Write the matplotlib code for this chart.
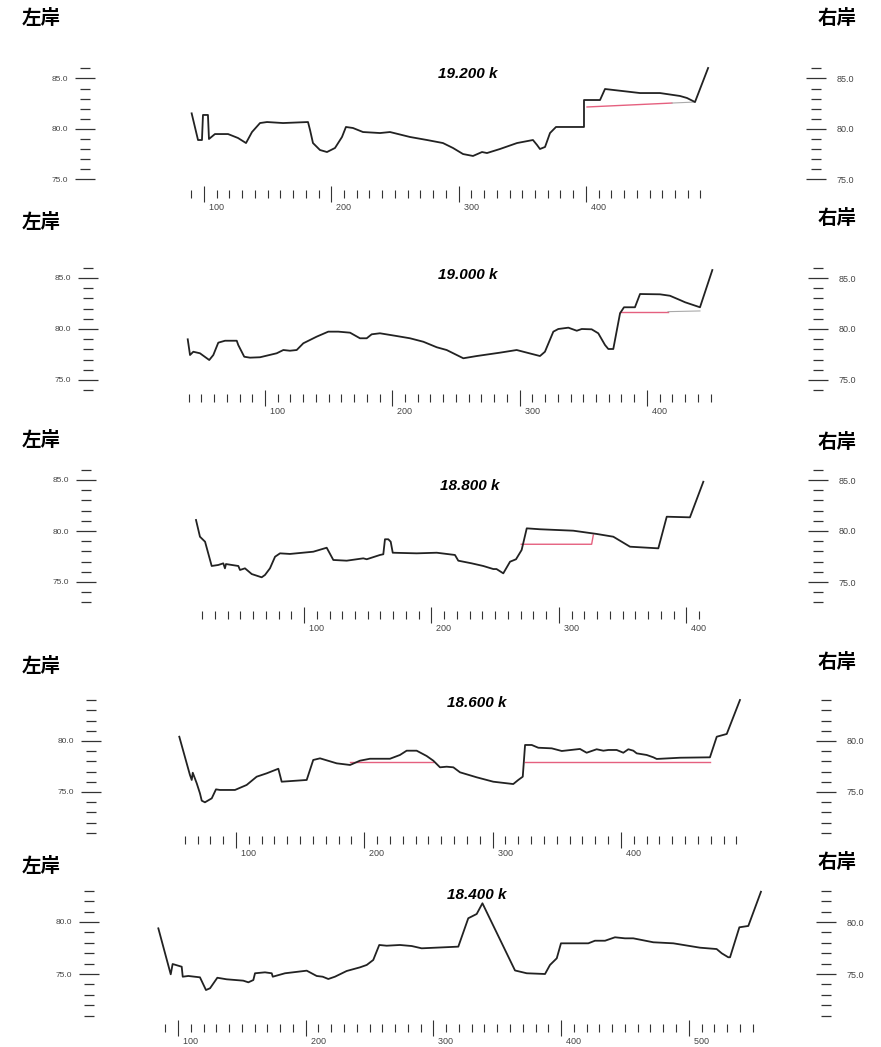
import numpy as np
import matplotlib.pyplot as plt
from matplotlib.ticker import FixedLocator, FormatStrFormatter

plt.rcParams['font.family'] = ['Liberation Sans', 'DejaVu Sans']

# 断面名
names = ['19.200 k', '19.000 k', '18.800 k', '18.600 k', '18.400 k']

# 19.200 k 横断面 (距離 m, 標高 m)
x_19200 = [90.3, 95.3, 98.4, 99.2, 103.1, 103.9, 108.6, 118.9, 126.7, 133.0, 137.7, 144.0,
           149.5, 162.1, 181.7, 183.3, 185.6, 191.1, 196.6, 202.9, 208.4, 211.5, 217.0, 224.9,
           238.3, 246.1, 261.8, 275.2, 287.7, 295.6, 303.5, 311.3, 318.4, 322.3, 332.5, 345.9,
           358.4, 361.6, 363.9, 367.9, 371.8, 376.5, 395.4, 398.5, 398.5, 401.6, 411.1, 415.0,
           442.5, 458.2, 473.9, 479.4, 485.7, 496.0]
z_19200 = [81.55, 78.91, 78.91, 81.39, 81.39, 79.01, 79.50, 79.50, 79.11, 78.61, 79.70, 80.59,
           80.69, 80.59, 80.69, 79.90, 78.61, 77.92, 77.72, 78.12, 79.21, 80.20, 80.10, 79.70,
           79.60, 79.70, 79.21, 78.91, 78.61, 78.12, 77.52, 77.33, 77.72, 77.62, 78.02, 78.61,
           78.91, 78.42, 78.02, 78.22, 79.60, 80.20, 80.20, 80.20, 82.87, 82.87, 82.87, 83.96,
           83.56, 83.56, 83.27, 83.07, 82.67, 86.04]
wl_x_19200 = [400.9, 467.6]
wl_z_19200 = [82.18, 82.57]
ext_x_19200 = [467.6, 485.7]
ext_z_19200 = [82.57, 82.67]

# 19.000 k
x_19000 = [39.3, 41.1, 43.7, 48.9, 56.2, 59.4, 63.3, 68.6, 77.8, 79.0, 83.7, 88.2, 96.1,
           109.2, 114.4, 119.6, 124.9, 130.1, 140.6, 149.7, 157.6, 166.8, 174.6, 179.9, 183.8,
           190.3, 203.5, 213.9, 224.4, 234.9, 242.7, 255.8, 266.3, 284.6, 297.7, 316.0, 319.9,
           326.5, 330.4, 338.3, 344.9, 348.8, 356.6, 361.8, 367.1, 369.7, 373.6, 378.9, 382.0,
           390.6, 394.6, 410.3, 418.1, 426.0, 430.0, 441.7, 451.4]
z_19000 = [78.99, 77.45, 77.77, 77.62, 76.96, 77.45, 78.66, 78.85, 78.85, 78.43, 77.28, 77.19,
           77.23, 77.62, 77.94, 77.87, 77.94, 78.60, 79.25, 79.74, 79.74, 79.64, 79.09, 79.09,
           79.48, 79.58, 79.31, 79.09, 78.75, 78.21, 77.94, 77.13, 77.35, 77.68, 77.94, 77.35,
           77.77, 79.74, 80.00, 80.13, 79.83, 80.00, 79.97, 79.58, 78.43, 78.04, 78.04, 81.54,
           82.13, 82.13, 83.43, 83.40, 83.26, 82.84, 82.62, 82.13, 85.78]
wl_x_19000 = [378.6, 416.6]
wl_z_19000 = [81.70, 81.70]
ext_x_19000 = [416.6, 441.7]
ext_z_19000 = [81.70, 81.77]

# 18.800 k
x_18800 = [15.3, 18.4, 21.0, 22.4, 27.6, 32.8, 36.7, 38.0, 38.8, 48.5, 49.8, 53.7, 59.0,
           66.8, 69.4, 73.3, 77.3, 81.2, 89.0, 107.3, 117.8, 123.0, 133.5, 146.5, 149.2, 159.6,
           162.2, 163.5, 166.1, 168.0, 169.6, 188.4, 204.1, 218.4, 221.0, 231.5, 240.6, 248.5,
           251.0, 256.3, 261.6, 266.3, 270.7, 274.7, 285.1, 311.2, 329.6, 342.6, 355.7, 377.9,
           384.5, 402.7, 413.2]
z_18800 = [81.08, 79.44, 79.12, 78.95, 76.57, 76.67, 76.83, 76.34, 76.76, 76.57, 76.18, 76.34,
           75.78, 75.46, 75.69, 76.34, 77.48, 77.81, 77.75, 77.97, 78.36, 77.16, 77.09, 77.32,
           77.23, 77.65, 77.72, 79.19, 79.19, 78.95, 77.87, 77.81, 77.87, 77.65, 77.09, 76.83,
           76.57, 76.27, 76.27, 75.85, 76.99, 77.23, 78.14, 80.26, 80.17, 80.03, 79.71, 79.44,
           78.46, 78.30, 81.40, 81.34, 84.83]
wl_x_18800 = [270.4, 325.6, 326.9]
wl_z_18800 = [78.70, 78.70, 79.60]

# 18.600 k
x_18600 = [55.8, 64.1, 65.5, 66.3, 69.4, 71.9, 73.3, 75.8, 81.1, 84.4, 87.5, 99.2, 108.3,
           116.1, 123.9, 133.0, 135.6, 155.1, 160.2, 165.5, 178.5, 188.9, 196.6, 204.4, 220.0,
           227.8, 233.0, 240.8, 248.6, 253.8, 259.0, 264.2, 269.4, 274.6, 287.6, 300.5, 316.1,
           320.0, 323.5, 325.3, 330.5, 335.6, 346.1, 353.9, 368.1, 373.3, 381.1, 386.3, 390.2,
           396.7, 401.9, 405.8, 409.7, 412.3, 420.1, 425.3, 427.9, 446.1, 469.4, 474.7, 482.5,
           492.8]
z_18600 = [80.42, 76.67, 76.18, 76.89, 75.85, 74.87, 74.15, 73.99, 74.38, 75.26, 75.20, 75.20,
           75.69, 76.50, 76.83, 77.28, 76.01, 76.18, 78.14, 78.30, 77.81, 77.65, 78.07, 78.26,
           78.26, 78.63, 79.05, 79.05, 78.53, 78.07, 77.42, 77.48, 77.42, 76.93, 76.44, 76.01,
           75.78, 76.18, 76.50, 79.61, 79.61, 79.34, 79.28, 79.02, 79.22, 78.85, 79.19, 79.05,
           79.12, 79.12, 78.85, 79.19, 79.05, 78.79, 78.63, 78.40, 78.24, 78.36, 78.40, 80.42,
           80.69, 84.02]
wl1_x_18600 = [188.9, 253.6]
wl1_z_18600 = [77.97, 77.97]
wl2_x_18600 = [325.3, 469.4]
wl2_z_18600 = [77.97, 77.97]

# 18.400 k
x_18400 = [84.6, 94.3, 95.8, 102.9, 103.7, 108.1, 117.2, 121.9, 125.1, 130.8, 138.1, 151.1,
           155.1, 159.0, 160.3, 168.1, 173.4, 174.2, 183.8, 200.8, 208.6, 213.3, 217.7, 222.9,
           232.1, 242.5, 247.8, 252.9, 257.6, 263.4, 273.8, 283.0, 290.8, 319.5, 327.3, 333.9,
           338.4, 363.9, 373.1, 387.4, 391.3, 396.6, 399.9, 421.3, 426.5, 434.4, 442.2, 450.0,
           456.5, 472.2, 487.9, 508.8, 521.8, 525.8, 530.9, 532.3, 539.6, 546.6, 556.5]
z_18400 = [79.39, 74.97, 75.96, 75.70, 74.74, 74.81, 74.68, 73.46, 73.63, 74.64, 74.49, 74.36,
           74.20, 74.42, 75.07, 75.16, 75.07, 74.74, 75.07, 75.32, 74.81, 74.74, 74.52, 74.74,
           75.29, 75.64, 75.87, 76.35, 77.79, 77.72, 77.79, 77.69, 77.47, 77.63, 80.36, 80.77,
           81.80, 75.34, 75.07, 75.00, 75.87, 76.51, 77.95, 77.95, 78.20, 78.20, 78.53, 78.43,
           78.43, 78.05, 77.95, 77.53, 77.40, 76.99, 76.61, 76.61, 79.49, 79.62, 82.91]

profiles = [(x_19200, z_19200), (x_19000, z_19000), (x_18800, z_18800),
            (x_18600, z_18600), (x_18400, z_18400)]
red_lines = [[(wl_x_19200, wl_z_19200)], [(wl_x_19000, wl_z_19000)], [(wl_x_18800, wl_z_18800)],
             [(wl1_x_18600, wl1_z_18600), (wl2_x_18600, wl2_z_18600)], []]
grey_lines = [[(ext_x_19200, ext_z_19200)], [(ext_x_19000, ext_z_19000)], [], [], []]

# 目盛
x_ranges = [(90, 490), (40, 450), (20, 410), (60, 490), (90, 550)]
z_ranges = [(75, 86), (74, 86), (73, 86), (71, 84), (71, 83)]
z_majors = [[75, 80, 85], [75, 80, 85], [75, 80, 85], [75, 80], [75, 80]]

W, H = 881, 1047
fig = plt.figure(figsize=(W / 100, H / 100), dpi=100)

# pixel layout: left scale, right scale, x tick row, px of x=100, px of z=80, px/m x, px/m z
layout = [
    (85, 816, 194, 204, 129, 1.273, 10.1),
    (88, 818, 398, 265, 329, 1.273, 10.2),
    (86, 818, 615, 304, 531, 1.275, 10.2),
    (91, 826, 840, 236, 741, 1.283, 10.2),
    (89, 826, 1028, 178, 922, 1.277, 10.4),
]
title_pos = [(468, 74), (468, 275), (470, 486), (477, 703), (477, 895)]
left_pos = [18, 222, 440, 666, 866]
right_pos = [18, 218, 443, 663, 862]

for i in range(5):
    L, R, B, p100, y80, hs, vs = layout[i]
    T = B - 185
    ax = fig.add_axes([L / W, 1 - B / H, (R - L) / W, (B - T) / H])
    ax.set_facecolor('none')
    ax.set_xlim(100 + (L - p100) / hs, 100 + (R - p100) / hs)
    ax.set_ylim(80 - (B - y80) / vs, 80 + (y80 - T) / vs)
    for s in ax.spines.values():
        s.set_visible(False)

    x, z = profiles[i]
    ax.plot(x, z, color='#222222', lw=1.3, clip_on=False, zorder=3)
    for xr, zr in red_lines[i]:
        ax.plot(xr, zr, color='#e5607f', lw=1.0, zorder=2)
    for xg, zg in grey_lines[i]:
        ax.plot(xg, zg, color='#aaaaaa', lw=0.8, zorder=2)

    # x 目盛
    x0, x1 = x_ranges[i]
    ax.xaxis.set_major_locator(FixedLocator([v for v in range(100, x1 + 1, 100) if v >= x0]))
    ax.xaxis.set_minor_locator(FixedLocator(list(range(x0, x1 + 1, 10))))
    ax.xaxis.set_major_formatter(FormatStrFormatter('  %d'))
    ax.tick_params(axis='x', which='major', direction='inout', length=11.5, width=0.8,
                   color='#333333', labelsize=6.5, labelcolor='#444444', pad=1)
    ax.tick_params(axis='x', which='minor', direction='inout', length=5.5, width=0.8,
                   color='#333333')
    plt.setp(ax.get_xticklabels(), ha='left')

    # 標高目盛 (左右)
    z0, z1 = z_ranges[i]
    ax2 = ax.twinx()
    ax2.set_ylim(ax.get_ylim())
    for s in ax2.spines.values():
        s.set_visible(False)
    for a, p, fs in ((ax, 5, 6), (ax2, 8, 6.5)):
        a.yaxis.set_major_locator(FixedLocator(z_majors[i]))
        a.yaxis.set_minor_locator(FixedLocator(list(range(z0, z1 + 1))))
        a.yaxis.set_major_formatter(FormatStrFormatter('%.1f'))
        a.tick_params(axis='y', which='major', direction='inout', length=14, width=0.9,
                      color='#333333', labelsize=fs, labelcolor='#444444', pad=p)
        a.tick_params(axis='y', which='minor', direction='inout', length=7, width=0.9,
                      color='#333333')

    cx, cy = title_pos[i]
    fig.text(cx / W, 1 - cy / H, names[i], ha='center', va='center', fontsize=11,
             fontweight='bold', fontstyle='italic')
    fig.text(22 / W, 1 - left_pos[i] / H, '左岸', ha='left', va='center', fontsize=14,
             fontweight='bold', family=['Noto Sans CJK JP', 'DejaVu Sans'])
    fig.text(818 / W, 1 - right_pos[i] / H, '右岸', ha='left', va='center', fontsize=14,
             fontweight='bold', family=['Noto Sans CJK JP', 'DejaVu Sans'])

fig.savefig('out.png', dpi=100)
